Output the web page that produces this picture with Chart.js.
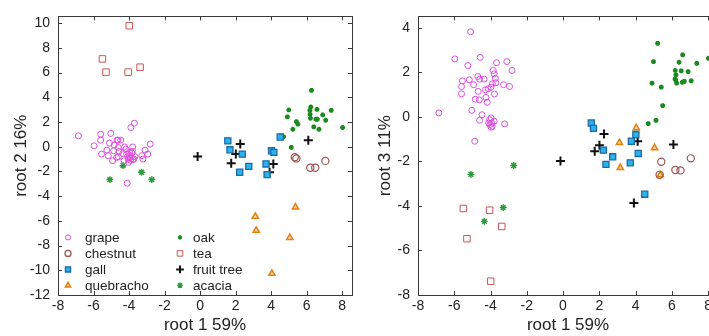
<!DOCTYPE html>
<html>
<head>
<meta charset="utf-8">
<script src="https://cdn.jsdelivr.net/npm/chart.js@4/dist/chart.umd.min.js"></script>
<style>
html,body{margin:0;padding:0;background:#fff;overflow:hidden;width:709px;height:336px;}
#c1{position:absolute;left:0;top:0;}
#c2{position:absolute;left:360px;top:0;}
</style>
</head>
<body>
<canvas id="c1" width="360" height="336"></canvas>
<canvas id="c2" width="366" height="336"></canvas>
<script>
// ---- data ----
const groups = ['grape','chestnut','gall','quebracho','oak','tea','fruit tree','acacia'];

const grapeRoot1 = [-6.85,-5.97,-5.6,-5.6,-5.55,-5.25,-5.17,-5.1,-5.03,-4.93,-4.87,-4.84,-4.7,-4.68,-4.62,-4.6,-4.6,-4.57,-4.47,-4.35,-4.28,-4.25,-4.18,-4.13,-4.1,-4.05,-4.03,-3.97,-3.97,-3.97,-3.94,-3.9,-3.91,-3.85,-3.8,-3.8,-3.78,-3.73,-3.7,-3.67,-3.28,-3.22,-3.1,-2.95,-2.81];
const grapeRoot2 = [0.88,0.07,1.01,0.53,-0.60,-0.28,-0.73,0.29,1.07,-1.13,-0.33,0.13,-0.87,0.53,0.53,-0.06,-0.81,-0.39,0.53,-0.55,-1.13,-0.02,-0.2,-0.6,-2.96,-1.0,-1.27,-0.46,-0.87,-0.7,-0.9,1.55,-1.1,-0.5,-0.02,-0.38,-1.05,-1.0,1.9,-0.8,-0.73,-1.0,-0.28,-0.6,0.21];
const grapeRoot3 = [0.18,2.61,1.37,1.04,1.62,2.31,1.67,3.83,0.30,1.45,-1.09,0.8,1.82,1.15,0.77,1.7,-0.15,2.68,0.1,1.7,1.22,0.88,0.66,1.27,-0.27,-0.12,-0.34,1.34,-0.46,-0.04,-0.27,1.49,-0.42,2.09,1.94,-0.19,1.03,1.74,1.54,2.44,1.45,-0.31,2.49,1.37,2.09];

const chestnutRoot1 = [5.33,5.42,6.2,6.48,7.05];
const chestnutRoot2 = [-0.85,-0.95,-1.7,-1.7,-1.15];
const chestnutRoot3 = [-2.6,-2.01,-2.38,-2.4,-1.86];

const gallRoot1 = [1.56,1.68,2.23,2.37,2.74,3.71,3.77,4.02,4.15,4.51];
const gallRoot2 = [0.47,-0.25,-2.07,-0.6,-1.59,-1.4,-2.26,-0.33,-0.46,0.78];
const gallRoot3 = [-0.27,-0.51,-1.49,-2.13,-1.79,-2.06,-1.09,-0.79,-1.64,-3.47];

const quebrachoRoot1 = [3.11,3.16,4.04,5.05,5.37];
const quebrachoRoot2 = [-5.64,-6.77,-10.26,-7.36,-4.89];
const quebrachoRoot3 = [-1.16,-2.28,-0.49,-1.39,-2.61];

const oakRoot1 = [4.7,5.13,4.91,4.99,5.22,5.42,5.5,6.18,6.19,6.21,6.23,6.27,6.4,6.52,6.58,6.6,6.69,6.9,7.07,7.38,8.02];
const oakRoot2 = [0.8,-0.06,2.41,2.97,1.41,2.03,1.82,2.94,2.62,2.3,3.21,4.55,1.6,2.22,3.02,2.22,1.41,2.57,2.14,2.94,1.55];
const oakRoot3 = [-0.3,-0.15,1.52,2.49,3.31,1.34,0.51,1.71,2.09,1.67,1.89,1.52,2.46,2.07,1.56,2.79,1.6,2.04,1.62,2.41,2.64];

const teaRoot1 = [-5.5,-5.3,-4.05,-3.99,-3.38];
const teaRoot2 = [7.1,6.03,6.03,9.79,6.43];
const teaRoot3 = [-4.11,-5.47,-4.19,-7.38,-4.92];

const fruitRoot1 = [-0.14,1.75,2.01,2.26,3.91,4.12,6.09];
const fruitRoot2 = [-0.79,-1.35,-0.6,0.21,-2.07,-1.4,0.53];
const fruitRoot3 = [-1.98,-1.54,-1.27,-0.76,-3.87,-1.09,-1.24];

const acaciaRoot1 = [-5.08,-4.34,-3.3,-2.72];
const acaciaRoot2 = [-2.66,-1.54,-2.07,-2.66];
const acaciaRoot3 = [-2.58,-4.69,-4.07,-2.18];

const xTicks = [-8,-6,-4,-2,0,2,4,6,8];
const y1Ticks = [-12,-10,-8,-6,-4,-2,0,2,4,6,8,10];
const y2Ticks = [-8,-6,-4,-2,0,2,4];

// ---- styling ----
const styles = [
  {pointStyle:'circle',   radius:3,   borderWidth:1,   borderColor:'#dc4ddc', backgroundColor:'rgba(255,255,255,0)'},
  {pointStyle:'circle',   radius:3.6, borderWidth:1.2, borderColor:'#9c5252', backgroundColor:'rgba(255,255,255,0)'},
  {pointStyle:'rect',     radius:4.3, borderWidth:1.3, borderColor:'#1b6aa5', backgroundColor:'#2cb3ec'},
  {pointStyle:'triangle', radius:3.6, borderWidth:1.5, borderColor:'#e8800e', backgroundColor:'#f9d9a8'},
  {pointStyle:'star',     radius:2.4, borderWidth:1.8, borderColor:'#198a1c', backgroundColor:'#198a1c'},
  {pointStyle:'rect',     radius:4.6, borderWidth:1,   borderColor:'#d05454', backgroundColor:'rgba(255,255,255,0)'},
  {pointStyle:'cross',    radius:4.5, borderWidth:2,   borderColor:'#111111', backgroundColor:'#111111'},
  {pointStyle:'star',     radius:3.4, borderWidth:1.4, borderColor:'#2a9a38', backgroundColor:'#2a9a38'}
];

const r1 = [grapeRoot1,chestnutRoot1,gallRoot1,quebrachoRoot1,oakRoot1,teaRoot1,fruitRoot1,acaciaRoot1];
const r2 = [grapeRoot2,chestnutRoot2,gallRoot2,quebrachoRoot2,oakRoot2,teaRoot2,fruitRoot2,acaciaRoot2];
const r3 = [grapeRoot3,chestnutRoot3,gallRoot3,quebrachoRoot3,oakRoot3,teaRoot3,fruitRoot3,acaciaRoot3];

function zip(a,b){ return a.map((v,i)=>({x:v,y:b[i]})); }

function makeDatasets(ys){
  return groups.map((g,i)=>{
    const s = styles[i];
    return {
      label:g,
      data:zip(r1[i], ys[i]),
      pointStyle:s.pointStyle,
      pointRadius:s.radius,
      pointBorderWidth:s.borderWidth,
      borderColor:s.borderColor,
      backgroundColor:s.backgroundColor,
      pointBackgroundColor:s.backgroundColor,
      pointBorderColor:s.borderColor,
      showLine:false
    };
  });
}

Chart.defaults.font.family = "'Liberation Sans', Arial, Helvetica, sans-serif";
Chart.defaults.color = '#222';

const framePlugin = {
  id:'frame',
  afterDraw(chart){
    const {ctx, chartArea:a, scales} = chart;
    ctx.save();
    ctx.strokeStyle = '#3a3a3a';
    ctx.lineWidth = 1;
    ctx.strokeRect(Math.round(a.left)+0.5, Math.round(a.top)+0.5, Math.round(a.right-a.left), Math.round(a.bottom-a.top));
    const tl = 4;
    ctx.beginPath();
    scales.x.ticks.forEach(t=>{
      const px = Math.round(scales.x.getPixelForValue(t.value))+0.5;
      ctx.moveTo(px, a.bottom); ctx.lineTo(px, a.bottom-tl);
      ctx.moveTo(px, a.top); ctx.lineTo(px, a.top+tl);
    });
    scales.y.ticks.forEach(t=>{
      const py = Math.round(scales.y.getPixelForValue(t.value))+0.5;
      ctx.moveTo(a.left, py); ctx.lineTo(a.left+tl, py);
      ctx.moveTo(a.right, py); ctx.lineTo(a.right-tl, py);
    });
    ctx.stroke();
    ctx.restore();
  }
};

function drawMarker(ctx, s, x, y){
  ctx.save();
  ctx.lineWidth = s.borderWidth;
  ctx.strokeStyle = s.borderColor;
  ctx.fillStyle = s.backgroundColor;
  const r = s.radius;
  ctx.beginPath();
  if (s.pointStyle==='circle'){ ctx.arc(x,y,r,0,Math.PI*2); ctx.fill(); ctx.stroke(); }
  else if (s.pointStyle==='rect'){ const h = Math.SQRT1_2*r; ctx.rect(x-h,y-h,2*h,2*h); ctx.fill(); ctx.stroke(); }
  else if (s.pointStyle==='triangle'){
    ctx.moveTo(x, y-r); ctx.lineTo(x+r*0.866, y+r*0.5); ctx.lineTo(x-r*0.866, y+r*0.5); ctx.closePath(); ctx.fill(); ctx.stroke();
  }
  else if (s.pointStyle==='cross'){ ctx.moveTo(x-r,y); ctx.lineTo(x+r,y); ctx.moveTo(x,y-r); ctx.lineTo(x,y+r); ctx.stroke(); }
  else if (s.pointStyle==='star'){
    const d = r*Math.SQRT1_2;
    ctx.moveTo(x-r,y); ctx.lineTo(x+r,y); ctx.moveTo(x,y-r); ctx.lineTo(x,y+r);
    ctx.moveTo(x-d,y-d); ctx.lineTo(x+d,y+d); ctx.moveTo(x-d,y+d); ctx.lineTo(x+d,y-d); ctx.stroke();
  }
  ctx.restore();
}

const legendPlugin = {
  id:'innerLegend',
  afterDraw(chart){
    const {ctx, chartArea:a} = chart;
    ctx.save();
    ctx.font = "13.5px 'Liberation Sans', Arial, sans-serif";
    ctx.fillStyle = '#222';
    ctx.textBaseline = 'middle';
    ctx.textAlign = 'left';
    chart.data.datasets.forEach((ds,i)=>{
      const col = Math.floor(i/4), row = i%4;
      const y = a.top + 221 + row*16;
      const mx = a.left + (col===0 ? 10 : 122);
      const tx = a.left + (col===0 ? 27 : 135);
      const s = Object.assign({}, styles[i]);
      s.radius = s.radius*0.85;
      drawMarker(ctx, s, mx, y);
      ctx.fillText(ds.label, tx, y+0.5);
    });
    ctx.restore();
  }
};

function fixedTicks(list){
  return function(scale){ scale.ticks = list.map(v=>({value:v})); };
}

function makeChart(id, ys, yMin, yMax, yTickList, yTitle, yTitlePad, extraPlugins){
  return new Chart(document.getElementById(id), {
    type:'scatter',
    data:{datasets:makeDatasets(ys)},
    options:{
      responsive:false,
      animation:false,
      devicePixelRatio:1,
      layout:{padding:{top:15,right:8,left:0,bottom:0}},
      plugins:{legend:{display:false}, tooltip:{enabled:false}},
      scales:{
        x:{
          type:'linear', min:-8, max:8.55,
          afterBuildTicks: fixedTicks(xTicks),
          afterFit(s){ s.height = 41; },
          grid:{display:false, drawTicks:false, tickLength:0}, border:{display:false},
          ticks:{font:{size:14}, padding:3, color:'#222', maxRotation:0, autoSkip:false},
          title:{display:true, text:'root 1 59%', font:{size:17}, color:'#222', padding:{top:0,bottom:0}}
        },
        y:{
          type:'linear', min:yMin, max:yMax,
          afterBuildTicks: fixedTicks(yTickList),
          afterFit(s){ s.width = 58; },
          grid:{display:false, drawTicks:false, tickLength:0}, border:{display:false},
          ticks:{font:{size:14}, padding:8, color:'#222', autoSkip:false},
          title:{display:true, text:yTitle, font:{size:17}, color:'#222', padding:{top:yTitlePad,bottom:0}}
        }
      }
    },
    plugins:[framePlugin].concat(extraPlugins)
  });
}

makeChart('c1', r2, -12, 10.54, y1Ticks, 'root 2 16%', 11, [legendPlugin]);
makeChart('c2', r3, -8, 4.52, y2Ticks, 'root 3 11%', 15, []);
</script>
</body>
</html>
